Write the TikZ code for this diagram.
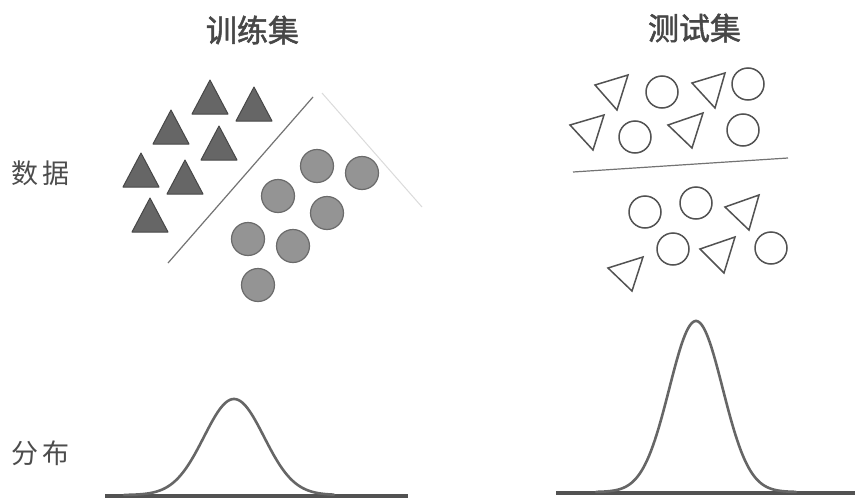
\documentclass[tikz,border=0pt]{standalone}
\usepackage{fontspec}
\newfontfamily\cjk{Noto Sans CJK SC}
\newfontfamily\cjkb{Noto Sans CJK SC}[FakeBold=1.6]
\begin{document}
\begin{tikzpicture}[x=1pt,y=-1pt,
  title/.style={font=\cjkb\fontsize{31}{34}\selectfont, text=black!72, inner sep=0pt},
  rowlabel/.style={font=\cjk\fontsize{27}{30}\selectfont, text=black!70, inner sep=0pt},
  tri/.style={fill=black!60, draw=black!72, line width=1pt, line join=round},
  dot/.style={fill=black!42, draw=black!58, line width=1.2pt},
  otri/.style={draw=black!68, line width=1.5pt, line join=miter},
  odot/.style={draw=black!68, line width=1.5pt},
  sep/.style={draw=black!55, line width=1.2pt},
  faint/.style={draw=black!14, line width=1pt},
  base/.style={draw=black!68, line width=4.5pt},
  bell/.style={draw=black!60, line width=2.6pt, line cap=round, line join=round}]
\useasboundingbox[fill=white] (0,0) rectangle (855,498);

% titles and row labels
\node[title] (ttrain) at (252.5,30) {训练集};
\node[title] (ttest) at (694.5,28) {测试集};
\node[rowlabel] (ldata) at (41,173) {数\hspace{4pt}据};
\node[rowlabel] (ldist) at (41,453) {分\hspace{4pt}布};

% training data: filled triangles
\foreach \a/\b in {210/80, 254/87, 171/110, 219/126, 141/153, 185/160, 150/198}
  \filldraw[tri] (\a,\b) -- ++(-18,34) -- ++(36,0) -- cycle;
% training data: filled circles
\foreach \a/\b in {317/166, 362/173, 278/196, 327/213, 248/239, 293/246, 258/285}
  \filldraw[dot] (\a,\b) circle[radius=16.5];
% separating lines
\draw[sep] (168,263) -- (313,97);
\draw[faint] (322,93) -- (422,207);

% test data: open triangles
\draw[otri] (595,85) -- (628,75) -- (617,110) -- cycle;
\draw[otri] (692,83) -- (725,73) -- (715,108) -- cycle;
\draw[otri] (570,125) -- (604,115) -- (593,150) -- cycle;
\draw[otri] (668,125) -- (703,113) -- (692,148) -- cycle;
\draw[otri] (725,207) -- (759,195) -- (749,230) -- cycle;
\draw[otri] (700,249) -- (735,237) -- (724,273) -- cycle;
\draw[otri] (608,268) -- (643,257) -- (632,291) -- cycle;
% test data: open circles
\foreach \a/\b in {662/92, 748/84, 635/137, 743/130, 645/212, 696/203, 673/249, 771/248}
  \draw[odot] (\a,\b) circle[radius=16];
% test separating line
\draw[sep] (573,172) -- (788,158);

% distributions
\draw[base] (105,496) -- (408,496);
\draw[bell] plot[domain=-110:100, samples=120] ({234+\x},{495-96*exp(-\x*\x/1800)});
\draw[base] (556,493) -- (855,493);
\draw[bell] plot[domain=-100:100, samples=120] ({696+\x},{492-171*exp(-\x*\x/1420)});
\end{tikzpicture}
\end{document}
